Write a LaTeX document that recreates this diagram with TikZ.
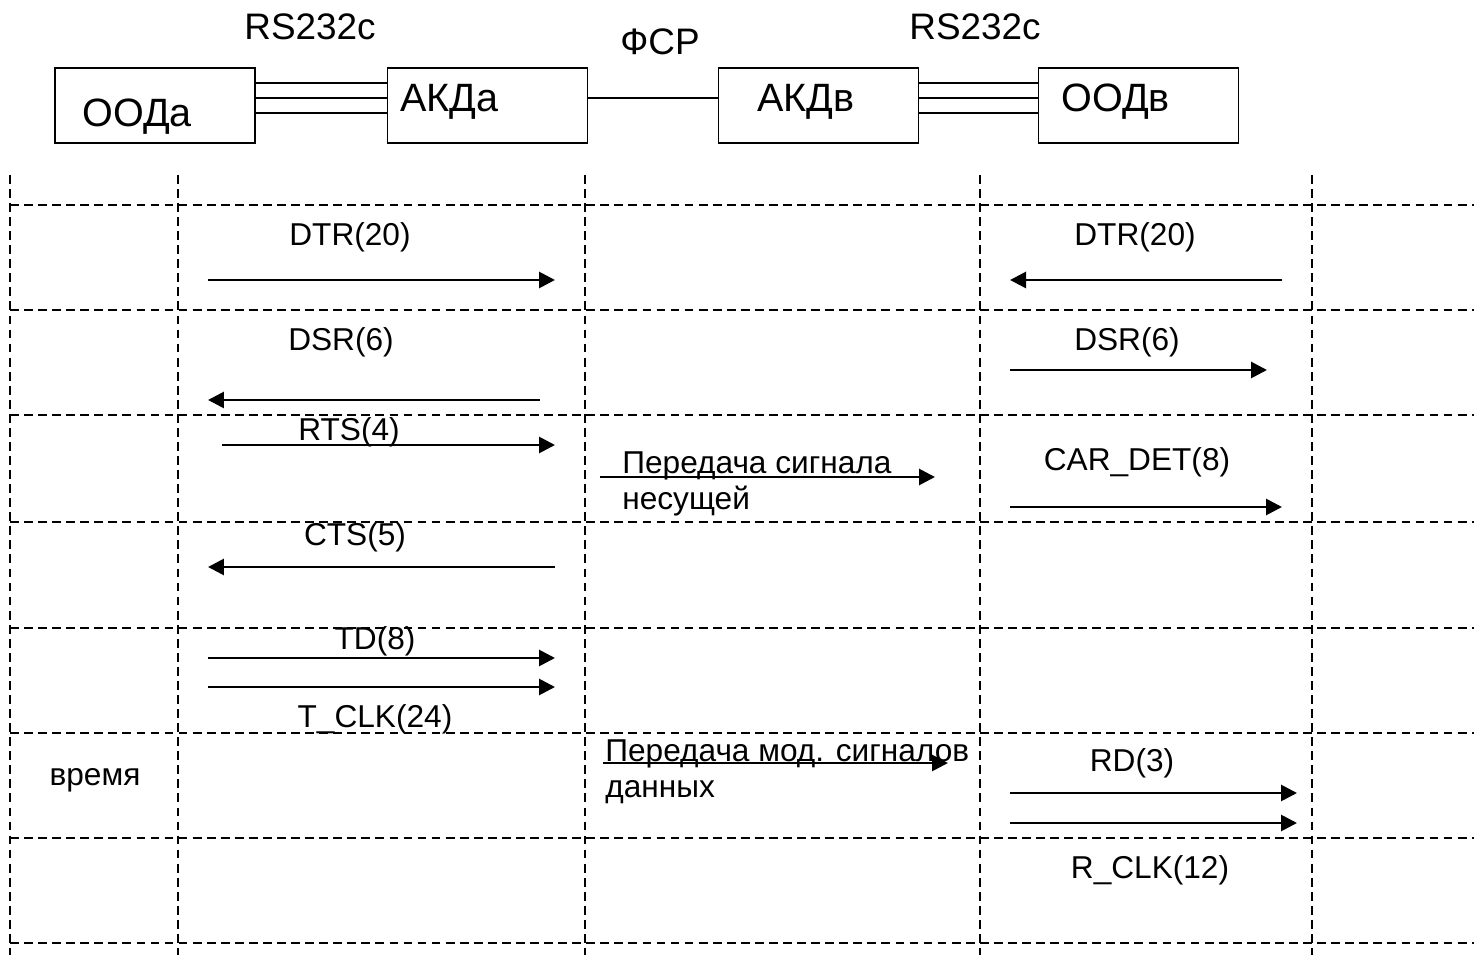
\documentclass[tikz,border=0pt]{standalone}
\usepackage{fontspec}
\setmainfont{Liberation Sans}
\usetikzlibrary{arrows.meta}

\begin{document}
\begin{tikzpicture}[
				x=0.02cm, y=-0.02cm,
				unit/.style={
					draw,
					rectangle,
					line width=0.9pt,
					minimum width=4cm,
					minimum height=1.5cm
				},
				big/.style={font=\fontsize{21}{24}\selectfont, inner sep=0pt},
				unitname/.style={font=\fontsize{22.5}{26}\selectfont, inner sep=0pt, anchor=west},
				lbl/.style={font=\fontsize{18}{20.5}\selectfont, inner sep=0pt},
				wire/.style={line width=0.9pt},
				grid/.style={dashed, line width=0.7pt, dash pattern=on 5pt off 3pt},
				signal/.style={line width=1.6pt, -{Triangle[length=3.2mm,width=3.2mm]}}
				]
				\useasboundingbox (0,0) rectangle (1474,955);
				
				% units
				\node[unit] (ooda) at (155,105.5) {};
				\node[unit] (akda) at (487.5,105.5) {};
				\node[unit] (akdv) at (818.5,105.5) {};
				\node[unit] (oodv) at (1138.5,105.5) {};
				\node[unitname] (oodatext) at (82,117) {ООДа};
				\node[unitname] (akdatext) at (400,102) {АКДа};
				\node[unitname] (akdvtext) at (757,102) {АКДв};
				\node[unitname] (oodvtext) at (1061,102) {ООДв};
				\node[big] (rsleft) at (310,27) {RS232c};
				\node[big] (fsr) at (660,42) {ФСР};
				\node[big] (rsright) at (975,27) {RS232c};
				
				\foreach \y in {83,98,113} {
					\draw[wire] (ooda.east |- 0,\y) -- (akda.west |- 0,\y);
					\draw[wire] (akdv.east |- 0,\y) -- (oodv.west |- 0,\y);
				}
				\draw[wire] (akda.east |- 0,98) -- (akdv.west |- 0,98);
				
				% time grid
				\foreach \y in {205,310,415,522,628,733,838,943}
					\draw[grid] (10,\y) -- (1474,\y);
				\foreach \x in {10,178,585,980,1312}
					\draw[grid] (\x,175) -- (\x,955);
				
				% signals
				\node[lbl] (dtra) at (350,237) {DTR(20)};
				\draw[signal] (208,280) -- (555,280);
				\node[lbl] (dtrb) at (1135,237) {DTR(20)};
				\draw[signal] (1282,280) -- (1010,280);
				
				\node[lbl] (dsra) at (341,342) {DSR(6)};
				\draw[signal] (540,400) -- (208,400);
				\node[lbl] (dsrb) at (1127,342) {DSR(6)};
				\draw[signal] (1010,370) -- (1267,370);
				
				\node[lbl] (rts) at (349,432) {RTS(4)};
				\draw[signal] (222,445) -- (555,445);
				\node[lbl,anchor=north west,align=left] (carrier) at (622,451) {Передача сигнала\\несущей};
				\draw[signal] (600,477) -- (935,477);
				\node[lbl] (cardet) at (1137,462) {CAR\_DET(8)};
				\draw[signal] (1010,507) -- (1282,507);
				
				\node[lbl] (cts) at (355,537) {CTS(5)};
				\draw[signal] (555,567) -- (208,567);
				
				\node[lbl] (td) at (375,641) {TD(8)};
				\draw[signal] (208,658) -- (555,658);
				\draw[signal] (208,687) -- (555,687);
				\node[lbl] (tclk) at (375,719) {T\_CLK(24)};
				
				\node[lbl] (time) at (95,780) {время};
				\node[lbl,anchor=north west,align=left] (data) at (605,739) {Передача мод. сигналов\\данных};
				\draw[signal] (603,763) -- (948,763);
				\node[lbl] (rd) at (1132,763) {RD(3)};
				\draw[signal] (1010,793) -- (1297,793);
				\draw[signal] (1010,823) -- (1297,823);
				\node[lbl] (rclk) at (1150,870) {R\_CLK(12)};
			\end{tikzpicture}
\end{document}
